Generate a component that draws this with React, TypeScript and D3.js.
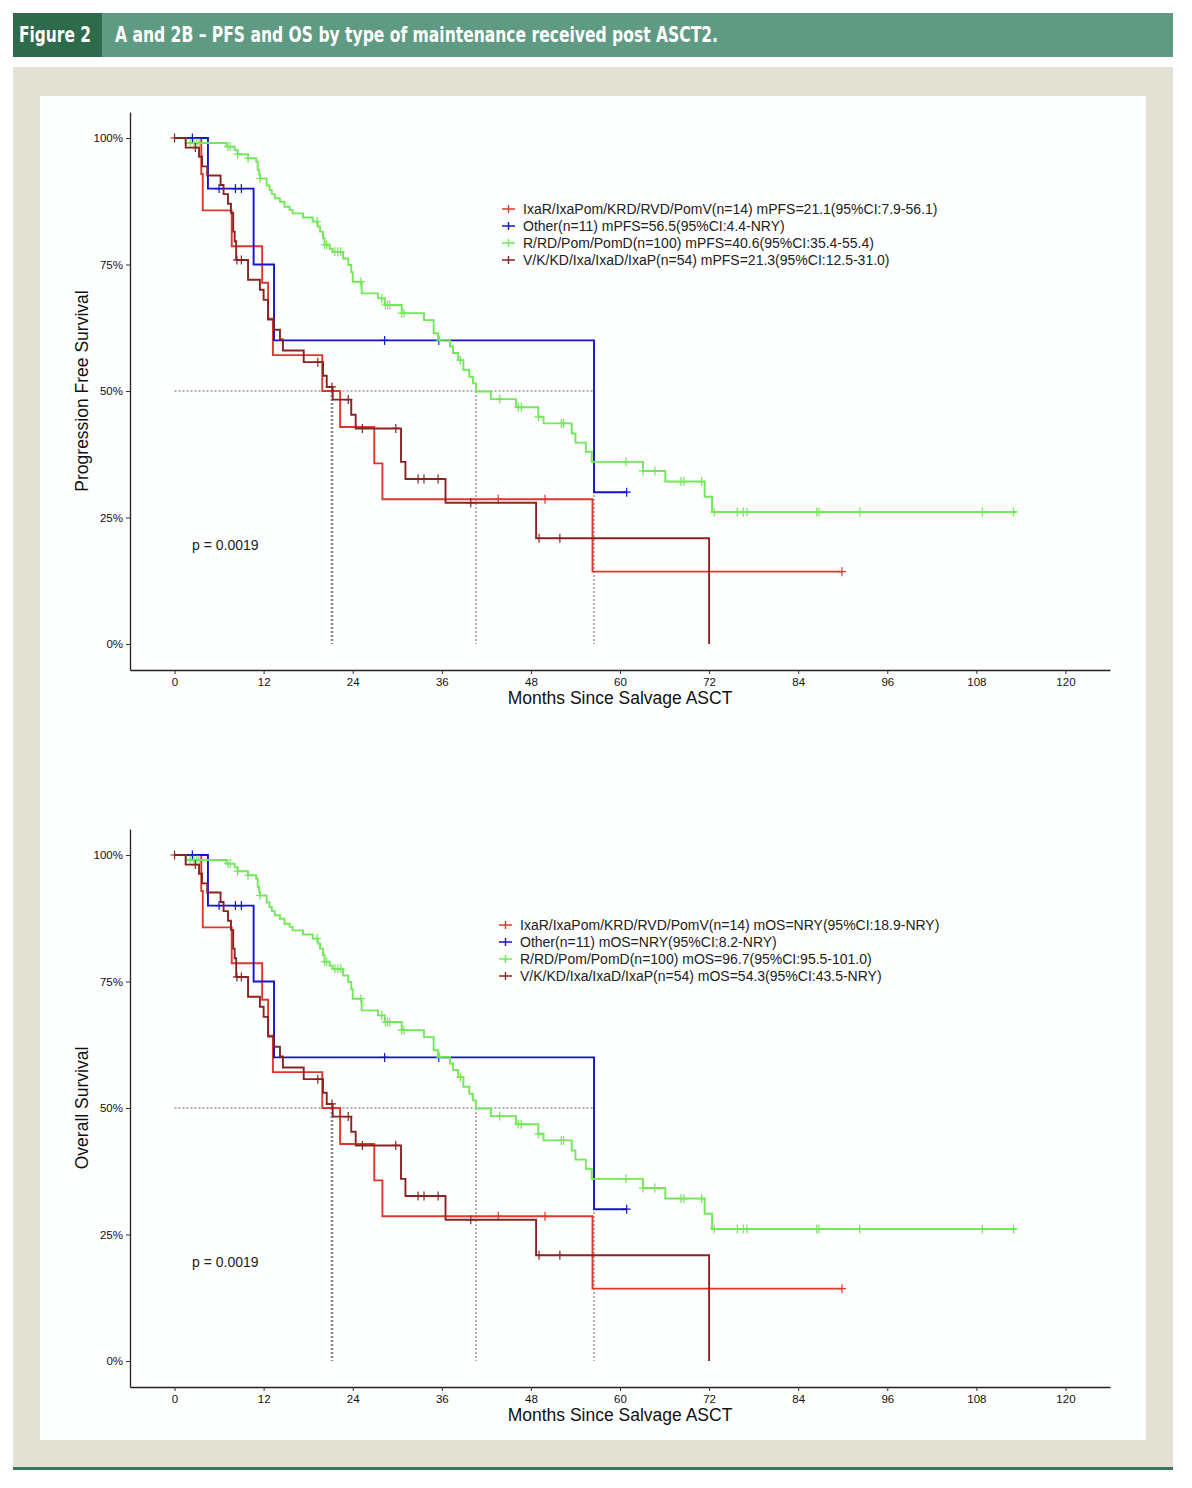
import React, { useEffect, useRef } from 'react';
import * as d3 from 'd3';

// step curves: months since salvage ASCT -> survival (%)
const redTime = [0, 3.6, 3.8, 7.7, 11.8, 12.6, 13.25, 19.9, 22.3, 26.9, 28.0, 56.3, 89.9];
const redSurv = [100, 92.9, 85.7, 78.6, 71.4, 64.3, 57.1, 50.0, 42.9, 35.7, 28.6, 14.3, 14.3];
const redCens = [43.6, 49.9, 89.9];

const blueTime = [0, 4.5, 10.65, 13.4, 56.5, 60.9];
const blueSurv = [100, 90, 75, 60, 30, 30];
const blueCens = [2.4, 6.0, 8.2, 9.0, 28.3, 35.6, 60.9];

const greenTime = [0, 1.5, 7.0, 8.1, 8.5, 9.9, 11.0, 11.2, 11.4, 11.5, 12.4, 12.8, 13.1, 13.5, 14.2, 14.8, 15.5, 15.9, 17.3, 18.6,
  19.3, 19.6, 20.0, 20.2, 20.9, 21.3, 22.7, 23.4, 23.8, 24.0, 25.2, 27.4, 28.3, 30.6, 33.6, 34.9, 35.5, 37.1, 37.5, 38.2,
  38.9, 39.7, 40.2, 40.6, 42.6, 46.0, 49.0, 49.7, 53.5, 54.0, 55.4, 56.2, 63.1, 66.1, 71.4, 72.4, 113.4];
const greenSurv = [100, 99, 98.3, 97.6, 96.8, 96, 95.3, 93.7, 92.8, 92.0, 90.6, 89.7, 88.9, 88.1, 87.4, 86.4, 85.8, 85.1, 84.3, 83.5,
  82.5, 81.5, 80.2, 78.9, 78.1, 77.5, 76.2, 74.9, 73.5, 71.6, 69.3, 68.3, 67.0, 65.4, 64.0, 61.4, 60.1, 58.8, 57.5, 56.1,
  54.2, 52.8, 51.5, 49.9, 48.4, 46.8, 44.9, 43.6, 41.6, 39.8, 38.0, 36.0, 34.2, 32.1, 29.1, 26.1, 26.1];
const greenCens = [2.1, 2.6, 3.0, 3.3, 7.2, 7.5, 8.5, 9.9, 11.5, 19.2, 20.2, 20.5, 21.6, 22.0, 22.4, 25.1, 27.9, 28.4, 28.7, 29.0,
  30.6, 30.9, 35.7, 38.5, 43.8, 46.3, 46.7, 49.0, 52.1, 52.4, 60.8, 63.1, 64.7, 68.2, 68.6, 71.0, 72.7, 75.8, 76.6, 77.1,
  86.5, 86.8, 92.3, 108.8, 113.0];

const brownTime = [0, 1.5, 3.3, 3.7, 4.4, 6.2, 6.6, 7.2, 7.6, 7.9, 8.1, 8.3, 9.9, 11.5, 12.0, 12.6, 13.35, 14.2, 14.6, 17.4,
  20.0, 20.5, 21.3, 23.8, 24.4, 30.5, 31.1, 36.5, 48.7, 72.0];
const brownSurv = [100, 98.1, 96.3, 94.4, 92.6, 90.7, 88.9, 87.0, 85.2, 81.5, 79.6, 75.9, 72.0, 70.0, 68.0, 64.1, 62.1, 60.2, 58.0, 55.7,
  53.0, 50.8, 48.3, 45.3, 42.6, 36.0, 32.6, 27.9, 20.9, 0];
const brownCens = [0, 2.8, 8.4, 9.0, 19.3, 21.2, 23.4, 25.3, 29.8, 32.8, 33.6, 35.5, 39.9, 49.1, 51.9];

const medians = [21.1, 56.5, 40.6, 21.3];
const xTicks = [0, 12, 24, 36, 48, 60, 72, 84, 96, 108, 120];
const yTicks = [0, 25, 50, 75, 100];

const pfsLabels = [
  'IxaR/IxaPom/KRD/RVD/PomV(n=14) mPFS=21.1(95%CI:7.9-56.1)',
  'Other(n=11) mPFS=56.5(95%CI:4.4-NRY)',
  'R/RD/Pom/PomD(n=100) mPFS=40.6(95%CI:35.4-55.4)',
  'V/K/KD/Ixa/IxaD/IxaP(n=54) mPFS=21.3(95%CI:12.5-31.0)',
];
const osLabels = [
  'IxaR/IxaPom/KRD/RVD/PomV(n=14) mOS=NRY(95%CI:18.9-NRY)',
  'Other(n=11) mOS=NRY(95%CI:8.2-NRY)',
  'R/RD/Pom/PomD(n=100) mOS=96.7(95%CI:95.5-101.0)',
  'V/K/KD/Ixa/IxaD/IxaP(n=54) mOS=54.3(95%CI:43.5-NRY)',
];

const colors = ['#e0372c', '#1414cc', '#72e85a', '#8a2424'];
const series = [
  { t: redTime, s: redSurv, c: redCens },
  { t: blueTime, s: blueSurv, c: blueCens },
  { t: greenTime, s: greenSurv, c: greenCens },
  { t: brownTime, s: brownSurv, c: brownCens },
];

const W = 1192;
const H = 1488;
const FONT = 'Liberation Sans, Arial, Helvetica, sans-serif';

export default function App() {
  const svgRef = useRef<SVGSVGElement | null>(null);

  useEffect(() => {
    const svg = d3.select(svgRef.current);
    svg.selectAll('*').remove();

    // page frame
    svg.append('rect').attr('width', W).attr('height', H).attr('fill', '#fff');
    svg.append('rect').attr('x', 13).attr('y', 67).attr('width', 1160).attr('height', 1400).attr('fill', '#e3e0d4');
    svg.append('rect').attr('x', 40).attr('y', 96).attr('width', 1106).attr('height', 1344).attr('fill', '#fdfefe');
    svg.append('rect').attr('x', 13).attr('y', 1467).attr('width', 1160).attr('height', 3).attr('fill', '#3d775a');

    // header bar
    svg.append('rect').attr('x', 13).attr('y', 13).attr('width', 1160).attr('height', 44).attr('fill', '#5f9a82');
    svg.append('rect').attr('x', 13).attr('y', 13).attr('width', 89).attr('height', 44).attr('fill', '#2e6b4d');
    const hFont = 'Liberation Sans Narrow, DejaVu Sans Condensed, Arial Narrow, sans-serif';
    svg.append('text').attr('x', 19).attr('y', 42).text('Figure 2')
      .attr('fill', '#fff').attr('font-family', hFont).attr('font-weight', 'bold').attr('font-size', 21)
      .attr('textLength', 72).attr('lengthAdjust', 'spacingAndGlyphs');
    svg.append('text').attr('x', 115).attr('y', 42).text('A and 2B \u2013 PFS and OS by type of maintenance received post ASCT2.')
      .attr('fill', '#fff').attr('font-family', hFont).attr('font-weight', 'bold').attr('font-size', 21)
      .attr('textLength', 603).attr('lengthAdjust', 'spacingAndGlyphs');

    const drawPanel = (off: number, yTitle: string, labels: string[], lx: number, ly: number) => {
      const g = svg.append('g').attr('font-family', FONT);
      const x = d3.scaleLinear().domain([-6, 126]).range([130, 1110]);
      const y = d3.scaleLinear().domain([-5.14, 105.14]).range([670 + off, 112 + off]);

      const xAxis = d3.axisBottom(x).tickValues(xTicks).tickSize(4).tickSizeOuter(0).tickPadding(4);
      const yAxis = d3.axisLeft(y).tickValues(yTicks).tickFormat((d) => `${d}%`).tickSize(4).tickSizeOuter(0).tickPadding(3);

      const ax = g.append('g').attr('transform', `translate(0,${670 + off})`).call(xAxis);
      const ay = g.append('g').attr('transform', 'translate(130,0)').call(yAxis);
      [ax, ay].forEach((a) => {
        a.attr('font-family', FONT).attr('font-size', 11.5);
        a.select('.domain').attr('stroke', '#222').attr('stroke-width', 1.3);
        a.selectAll('.tick line').attr('stroke', '#333');
        a.selectAll('.tick text').attr('fill', '#111');
      });

      // median reference lines
      const dash = g.append('g').attr('stroke', '#555').attr('stroke-width', 0.9).attr('stroke-dasharray', '2,2').attr('fill', 'none');
      dash.append('line').attr('x1', x(0)).attr('x2', x(d3.max(medians)!)).attr('y1', y(50)).attr('y2', y(50));
      medians.forEach((m) => {
        dash.append('line').attr('x1', x(m)).attr('x2', x(m)).attr('y1', y(50)).attr('y2', y(0));
      });

      const line = d3.line<[number, number]>().x((d) => x(d[0])).y((d) => y(d[1])).curve(d3.curveStepAfter);

      series.forEach((sr, i) => {
        const pts: [number, number][] = sr.t.map((t, k) => [t, sr.s[k]]);
        g.append('path').attr('d', line(pts)).attr('fill', 'none').attr('stroke', colors[i]).attr('stroke-width', 1.9);
        const at = (t: number) => {
          let v = sr.s[0];
          sr.t.forEach((tt, k) => { if (tt <= t) v = sr.s[k]; });
          return v;
        };
        g.selectAll(null).data(sr.c).enter().append('path')
          .attr('transform', (d) => `translate(${x(d)},${y(at(d))})`)
          .attr('d', 'M-4,0H4M0,-4.5V4.5')
          .attr('stroke', colors[i]).attr('stroke-width', 1.2).attr('fill', 'none');
      });

      // legend
      labels.forEach((lab, i) => {
        const yy = ly + off + i * 17;
        g.append('path').attr('d', `M${lx},${yy}H${lx + 13}M${lx + 6.5},${yy - 4}V${yy + 4}`)
          .attr('stroke', colors[i]).attr('stroke-width', 1.4).attr('fill', 'none');
        g.append('text').attr('x', lx + 21).attr('y', yy).attr('dy', '0.35em').text(lab)
          .attr('font-size', 14).attr('fill', '#222');
      });

      g.append('text').attr('x', 192).attr('y', 550 + off).text('p = 0.0019').attr('font-size', 14).attr('fill', '#222');
      g.append('text').attr('x', 620).attr('y', 704 + off).attr('text-anchor', 'middle')
        .text('Months Since Salvage ASCT').attr('font-size', 17.5).attr('fill', '#111');
      g.append('text').attr('transform', `translate(88,${391 + off}) rotate(-90)`).attr('text-anchor', 'middle')
        .text(yTitle).attr('font-size', 17.5).attr('fill', '#111');
    };

    drawPanel(0, 'Progression Free Survival', pfsLabels, 502, 209);
    drawPanel(717, 'Overall Survival', osLabels, 499, 208);
  }, []);

  return <svg ref={svgRef} width={W} height={H} style={{ position: 'absolute', left: 0, top: 0 }} />;
}
